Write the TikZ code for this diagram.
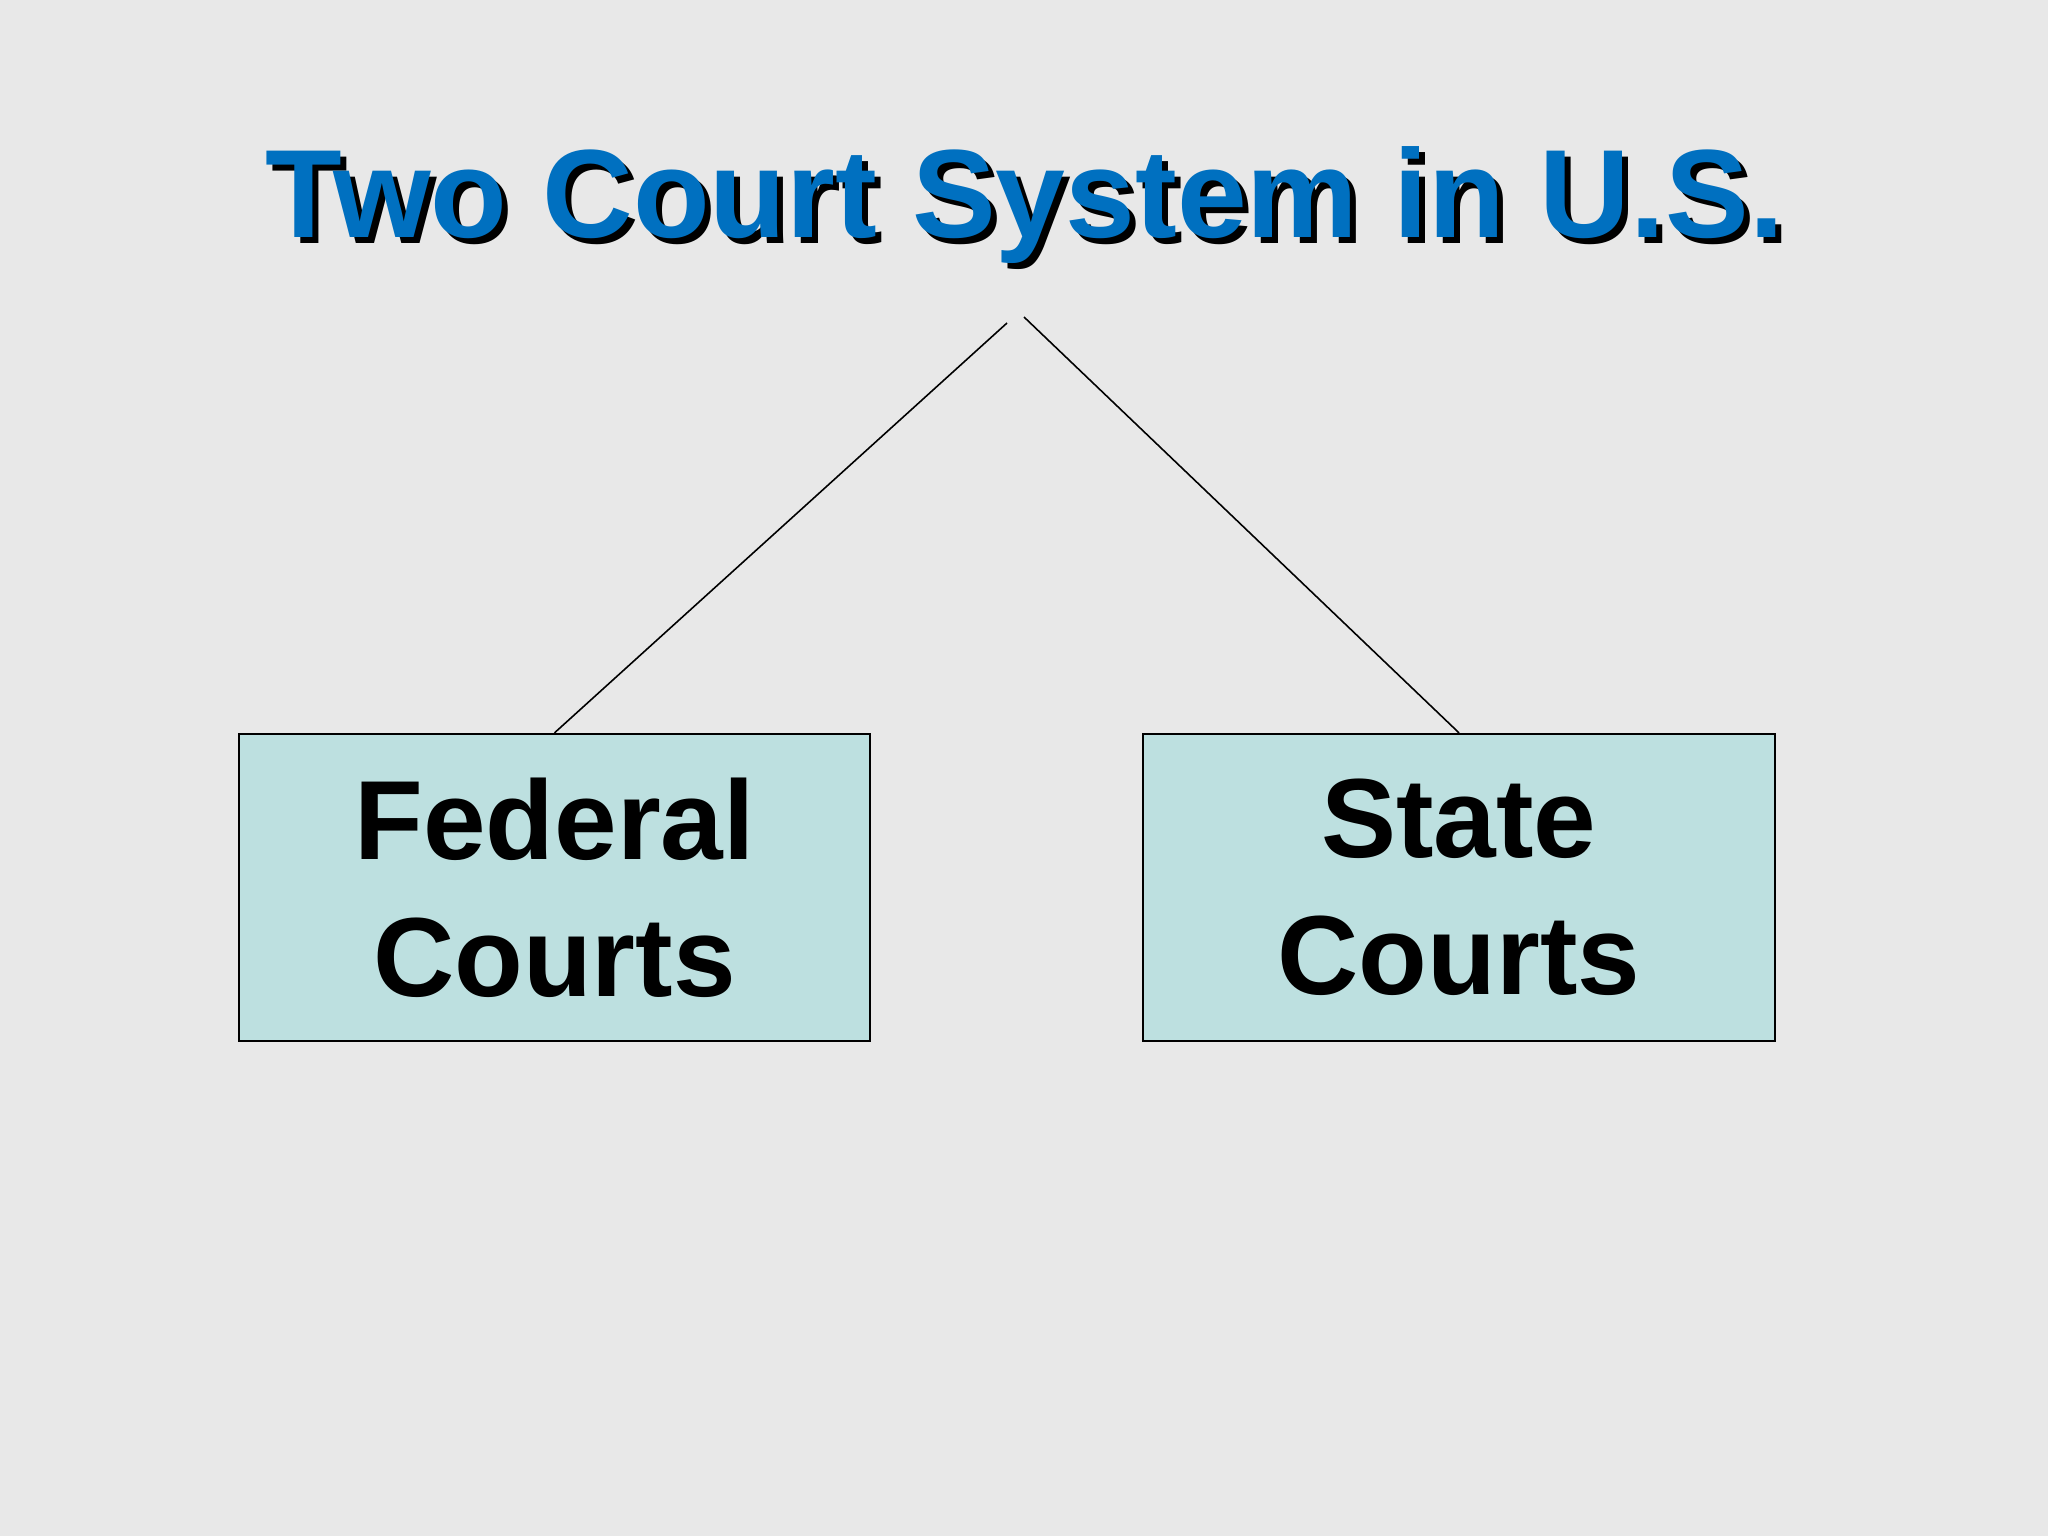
\documentclass[tikz,border=0pt]{standalone}
\usepackage{fontspec}
\setmainfont{Liberation Sans}
\definecolor{bgcol}{HTML}{E8E8E8}
\definecolor{titleblue}{HTML}{0070C0}
\definecolor{boxfill}{HTML}{BDE0E0}
\tikzset{
  titletext/.style={font=\fontsize{35.7}{41}\selectfont\bfseries, inner sep=0pt, anchor=base},
  courtbox/.style={draw=black, line width=0.6pt, fill=boxfill, minimum width=6.31cm, minimum height=3.07cm, align=center, inner sep=0pt, font=\fontsize{32}{39}\selectfont\bfseries},
  link/.style={draw=black, line width=0.45pt}
}
\begin{document}
\begin{tikzpicture}[x=0.01cm,y=-0.01cm]
\useasboundingbox (0,0) rectangle (2048,1536);
\fill[bgcol] (0,0) rectangle (2048,1536);
\node[titletext, text=black] (titleshadow) at (1031,243) {Two Court System in U.S.};
\node[titletext, text=titleblue] (title) at (1025,237) {Two Court System in U.S.};
\coordinate (lt) at (1007,323);
\coordinate (rt) at (1024,317);
\node[courtbox] (fed) at (554.5,887.5) {Federal\\Courts};
\node[courtbox] (state) at (1459,887.5) {State\\Courts};
\draw[link] (lt) -- (fed.north);
\draw[link] (rt) -- (state.north);
\end{tikzpicture}
\end{document}
